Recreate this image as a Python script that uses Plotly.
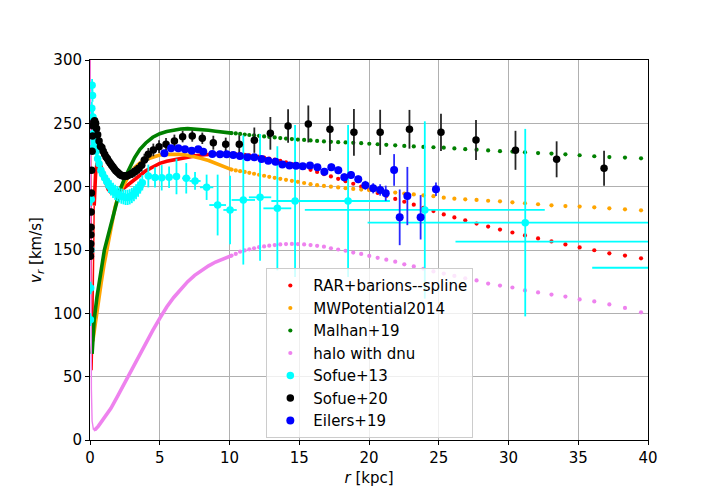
import plotly.graph_objects as go

# ---------------- model curves ----------------
# central spike (very small r), drawn thin
rar_r_spk = [0.01, 0.03, 0.06, 0.10, 0.15, 0.20, 0.25, 0.30]
rar_v_spk = [300, 250, 170, 100, 55, 80, 140, 185]
halo_r_spk = [0.01, 0.03, 0.06, 0.10, 0.15, 0.25]
halo_v_spk = [300, 200, 100, 40, 15, 8]

# inner (densely sampled) part, r < ~10 kpc
rar_r_in = [0.30, 0.40, 0.50, 0.60, 0.70, 0.80, 0.90, 1.00,
            1.15, 1.30, 1.50, 1.70, 1.90, 2.20, 2.50, 2.87, 3.20, 3.58, 4.00, 4.50, 5.00, 5.50, 6.00,
            6.50, 7.00, 7.50, 8.00, 8.50, 9.00, 9.50, 10.15]
rar_v_in = [185, 210, 218, 220, 219, 216, 212, 207,
            202, 198, 195.5, 195, 195.5, 197, 199.5, 202.7, 206, 209.2, 212.5, 215.5, 218.4, 220, 221.2,
            222.3, 223.4, 224.3, 225, 225.6, 226, 226.2, 226.0]

mw_r_in = [0.20, 0.40, 0.60, 0.80, 1.00, 1.20, 1.50, 1.80, 2.10, 2.46, 2.80, 3.20, 3.60, 4.00, 4.50,
           5.00, 5.50, 6.00, 6.50, 7.00, 7.50, 8.00, 8.50, 9.00, 9.50, 10.15]
mw_v_in = [78, 95, 110, 124, 138, 150, 168, 184, 195, 202, 209, 215, 219, 221.5, 223.5,
           225, 225.6, 225.8, 225.5, 224.8, 223.8, 222.3, 220.6, 218.5, 216.3, 213.5]

mal_r_in = [0.15, 0.30, 0.50, 0.70, 1.03, 1.43, 1.80, 2.15, 2.50, 2.87, 3.20, 3.58, 4.00, 4.50, 5.00,
            5.50, 6.00, 6.50, 7.00, 7.50, 8.00, 8.50, 9.00, 9.50, 10.15]
mal_v_in = [68, 95, 113, 128, 150, 167, 184, 197.5, 207, 216, 223, 229.5, 234.5, 239, 241.8,
            243.5, 244.8, 245.5, 245.8, 245.6, 245.1, 244.5, 243.8, 243.2, 242.3]

halo_r_in = [0.25, 0.40, 0.60, 0.80, 1.00, 1.50, 2.00, 2.50, 3.00, 3.50,
             4.00, 4.50, 5.00, 5.50, 6.00, 6.50, 7.00, 7.50, 8.00, 8.50, 9.00, 9.50, 10.15]
halo_v_in = [8, 8.5, 11, 14, 17, 25, 35, 45.5, 55.5, 66,
             76.5, 86.5, 96, 105, 112.5, 119, 125, 130, 134, 137.5, 140.5, 143, 145.6]

# outer part (individual dots)
r_out = [10.15, 10.45, 10.76, 11.09, 11.42, 11.76, 12.12, 12.48, 12.85, 13.24, 13.64, 14.05, 14.47,
         14.90, 15.35, 15.81, 16.28, 16.77, 17.27, 17.79, 18.32, 18.87, 19.44, 20.02, 20.62, 21.24,
         21.88, 22.53, 23.21, 23.90, 24.62, 25.36, 26.12, 26.90, 27.71, 28.54, 29.39, 30.28, 31.18,
         32.12, 33.08, 34.08, 35.10, 36.15, 37.23, 38.35, 39.50]
rar_v_out = [226.0, 225.8, 225.5, 225.2, 224.8, 224.3, 223.7, 223.0, 222.2, 221.3, 220.3, 219.2, 217.9,
             216.5, 215.0, 213.3, 211.6, 209.9, 208.1, 206.2, 204.3, 202.3, 200.0, 197.5, 195.0, 192.7,
             190.3, 188.1, 185.8, 183.3, 180.7, 178.1, 175.7, 173.4, 170.9, 168.5, 166.1, 163.8, 161.5,
             159.1, 156.8, 154.4, 152.0, 149.8, 147.4, 145.6, 143.4]
mw_v_out = [213.5, 212.8, 212.2, 211.6, 210.9, 210.2, 209.4, 208.6, 207.8, 207.0, 206.2, 205.4, 204.6,
            203.8, 202.9, 202.0, 201.2, 200.6, 200.0, 199.4, 198.8, 198.2, 197.7, 197.2, 196.6, 196.0,
            195.3, 194.6, 193.9, 193.2, 192.5, 191.3, 190.5, 190.0, 189.5, 188.9, 188.4, 187.6, 186.9,
            186.1, 185.3, 184.7, 184.3, 183.7, 182.9, 182.1, 181.3]
mal_v_out = [242.3, 242.0, 241.6, 241.2, 240.8, 240.5, 240.1, 239.7, 239.3, 238.9, 238.4, 238.0, 237.6,
             237.2, 236.9, 236.5, 236.1, 235.7, 235.4, 235.1, 234.9, 234.6, 234.3, 233.9, 233.5, 233.0,
             232.6, 232.2, 231.8, 231.4, 231.1, 230.8, 230.2, 229.6, 229.2, 228.6, 228.0, 227.7, 227.1,
             226.5, 226.1, 225.5, 224.8, 224.0, 223.4, 223.0, 222.4]
halo_v_out = [145.6, 147.0, 148.7, 149.7, 150.5, 151.4, 152.2, 152.8, 153.4, 153.9, 154.4, 154.7, 154.8,
              154.7, 154.4, 153.9, 153.3, 152.6, 151.4, 150.4, 149.4, 148.0, 146.9, 145.3, 143.8, 142.4,
              140.8, 138.7, 137.0, 135.2, 133.1, 131.4, 129.5, 127.7, 126.0, 123.5, 121.9, 120.4, 118.1,
              116.5, 114.8, 113.2, 111.0, 109.4, 107.0, 104.3, 100.8]

# ---------------- observational data ----------------
sofue13_r = [0.03, 0.05, 0.07, 0.09, 0.11, 0.13, 0.15, 0.18, 0.21, 0.25, 0.30, 0.36, 0.45, 0.55, 0.65,
             0.78, 0.90, 1.05, 1.20, 1.35, 1.50, 1.65, 1.80, 1.95, 2.10, 2.25, 2.40, 2.55, 2.70, 2.85,
             3.00, 3.15, 3.30, 3.45, 3.60, 3.75,
             4.18, 4.66, 5.14, 5.67, 6.20, 6.90, 7.53, 8.36, 9.15, 10.04, 10.99, 12.19, 13.43, 14.70,
             18.50, 24.00, 31.20, 45.0, 50.0]
sofue13_v = [95, 120, 150, 190, 230, 262, 280, 272, 255, 242, 236, 232, 228, 222, 218,
             213, 210, 207, 204, 201, 199, 197, 195.5, 194.5, 193.5, 192.5, 192, 191.5, 191.5, 192,
             193, 194.5, 196, 198, 200.5, 203,
             208.4, 207.3, 207.0, 207.5, 208.0, 206.6, 204.5, 199.5, 185.5, 181.6, 189.5, 191.6, 182.9, 188.7,
             188.7, 181.6, 171.6, 156.6, 136.0]
sofue13_verr = [5, 5, 5, 5, 5, 5, 5, 5, 5, 5, 5, 5, 5, 5, 5,
                5, 5, 5, 5, 6, 6, 6, 6, 6, 6, 6, 6, 6, 6, 6,
                6, 6, 6, 6, 6, 6,
                9, 8, 10, 8.5, 14, 12, 7, 10, 24, 27, 51, 50, 49, 60,
                60, 70, 74, 75, 75]
sofue13_rerr = [0.01, 0.01, 0.01, 0.01, 0.01, 0.01, 0.01, 0.02, 0.02, 0.02, 0.03, 0.03, 0.04, 0.05, 0.05,
                0.06, 0.07, 0.08, 0.08, 0.08, 0.08, 0.08, 0.08, 0.1, 0.1, 0.1, 0.1, 0.1, 0.1, 0.1,
                0.1, 0.1, 0.1, 0.1, 0.1, 0.1,
                0.25, 0.25, 0.25, 0.25, 0.25, 0.3, 0.4, 0.48, 0.6, 0.48, 0.84, 0.8, 1.0, 1.7,
                3.0, 8.6, 11.3, 18.8, 14.0]

sofue20_r = [0.03, 0.04, 0.05, 0.06, 0.07, 0.08, 0.10, 0.12, 0.15, 0.18, 0.22, 0.27, 0.33, 0.40, 0.47,
             0.55, 0.65, 0.75, 0.85, 0.95, 1.05, 1.15, 1.25, 1.35, 1.45, 1.55, 1.65, 1.75, 1.85, 1.95,
             2.05, 2.15, 2.25, 2.35, 2.45, 2.55, 2.65, 2.75, 2.90, 3.05, 3.20, 3.35, 3.50, 3.70,
             3.90, 4.18, 4.54, 4.95, 5.45, 6.05, 6.64, 7.33, 8.05, 8.84, 9.73, 10.70, 11.78, 12.93,
             14.20, 15.65, 17.20, 18.92, 20.80, 22.90, 25.16, 27.67, 30.50, 33.45, 36.85]
sofue20_v = [145, 150, 155, 162, 168, 180, 195, 213, 228, 240, 248, 251, 252, 250, 246,
             241, 236, 232, 231, 228, 225.5, 223.5, 222, 220, 218.5, 217, 215.5, 214, 212.5, 211.5,
             210.5, 209.5, 209, 208.5, 208.5, 208.5, 208.5, 209, 209.8, 210.8, 211.8, 213, 214.5, 217,
             221, 225.5, 229, 231.6, 233.4, 236.1, 239.5, 240, 238.2, 234.7, 233.4, 233.5, 236.7, 242.1,
             247.9, 249.5, 245.3, 242.9, 242.9, 245.3, 242.9, 236.8, 228.7, 221.6, 214.5]
sofue20_verr = [2, 2, 2, 2, 2, 2, 2, 2, 2, 2, 2, 2, 2, 2, 2,
                2, 2, 2, 2, 2, 2, 2, 2, 2, 2, 2, 2, 2, 2, 2,
                3, 3, 3, 3, 3, 3, 3, 3, 3, 4, 4, 4, 4, 5,
                5, 5, 5, 5, 5, 5, 4.5, 4.5, 4.5, 5.5, 5.3, 7, 10, 12.9,
                13.3, 14.6, 17.2, 18.5, 17.8, 15.3, 14.7, 15.8, 15.4, 14.2, 13.8]

eilers19_r = [5.33, 5.81, 6.33, 6.81, 7.29, 7.76, 8.12, 8.77, 9.32, 9.80, 10.27, 10.75, 11.28, 11.78,
              12.30, 12.78, 13.30, 13.79, 14.30, 14.77, 15.25, 15.77, 16.30, 16.80, 17.30, 17.80, 18.23,
              18.71, 19.23, 19.74, 20.30, 20.80, 21.20, 21.80, 22.20, 22.75, 23.70, 24.80]
eilers19_v = [226.3, 230.3, 230.3, 229.5, 228.4, 229.5, 227.6, 225.8, 225.5, 225.5, 225.0, 224.2, 223.2,
              223.2, 221.8, 220.5, 219.7, 217.5, 216.8, 216.6, 216.1, 216.8, 215.3, 211.8, 215.3, 212.9,
              207.4, 209.2, 205.8, 201.1, 198.7, 197.4, 194.8, 213.2, 175.8, 192.6, 175.8, 197.9]
eilers19_verr = [2, 2, 2, 2, 2, 2, 2, 2, 2, 2, 2, 2, 2, 2, 2, 2, 2, 2, 2, 2, 2, 2.5, 2.5, 3, 3, 3, 3,
                 3, 3, 3.5, 4, 4.5, 6, 12.5, 22, 23, 17.5, 5.3]

# ---------------- figure ----------------
FONT = "DejaVu Sans"
FS = 15
fig = go.Figure()

def model(name, group, color, r_in, v_in, v_out, r_spk=None, v_spk=None):
    if r_spk is not None:
        fig.add_trace(go.Scatter(x=r_spk, y=v_spk, mode="lines", line=dict(color=color, width=1.4),
                                 legendgroup=group, showlegend=False, hoverinfo="skip"))
    fig.add_trace(go.Scatter(x=r_in, y=v_in, mode="lines", line=dict(color=color, width=3.6),
                             legendgroup=group, showlegend=False, hoverinfo="skip"))
    fig.add_trace(go.Scatter(x=r_out, y=v_out, mode="markers", name=name, legendgroup=group,
                             marker=dict(color=color, size=4.2, line=dict(width=0))))

model("RAR+barions--spline", "g1", "#ff0000", rar_r_in, rar_v_in, rar_v_out, rar_r_spk, rar_v_spk)
model("MWPotential2014", "g2", "#ffa500", mw_r_in, mw_v_in, mw_v_out)
model("Malhan+19", "g3", "#008000", mal_r_in, mal_v_in, mal_v_out)
model("halo with dnu", "g4", "#ee82ee", halo_r_in, halo_v_in, halo_v_out, halo_r_spk, halo_v_spk)

fig.add_trace(go.Scatter(
    x=sofue13_r, y=sofue13_v, mode="markers", name="Sofue+13", legendgroup="g5",
    marker=dict(color="#00ffff", size=7.5),
    error_y=dict(type="data", array=sofue13_verr, color="#00ffff", thickness=1.8, width=0),
    error_x=dict(type="data", array=sofue13_rerr, color="#00ffff", thickness=1.8, width=0)))

fig.add_trace(go.Scatter(
    x=sofue20_r, y=sofue20_v, mode="markers", name="Sofue+20", legendgroup="g6",
    marker=dict(color="#000000", size=7.5),
    error_y=dict(type="data", array=sofue20_verr, color="#262626", thickness=1.8, width=0)))

fig.add_trace(go.Scatter(
    x=eilers19_r, y=eilers19_v, mode="markers", name="Eilers+19", legendgroup="g7",
    marker=dict(color="#0000ff", size=8),
    error_y=dict(type="data", array=eilers19_verr, color="#2a2aff", thickness=1.8, width=0)))

axis_common = dict(showgrid=True, gridcolor="#b0b0b0", gridwidth=1, zeroline=False,
                   showline=True, linecolor="black", linewidth=1, mirror=True,
                   ticks="outside", ticklen=4, tickwidth=1, tickcolor="black",
                   tickfont=dict(family=FONT, size=FS, color="black"))

fig.update_layout(
    width=720, height=504,
    margin=dict(l=90, r=72, t=60, b=64),
    paper_bgcolor="white", plot_bgcolor="white",
    font=dict(family=FONT, size=FS, color="black"),
    showlegend=True,
    legend=dict(x=0.316, y=0.452, xanchor="left", yanchor="top",
                bgcolor="rgba(255,255,255,0.8)", bordercolor="#cccccc", borderwidth=1,
                font=dict(family=FONT, size=FS, color="black"),
                itemwidth=36,
                traceorder="grouped", tracegroupgap=0),
    xaxis=dict(range=[0, 40], tickvals=[0, 5, 10, 15, 20, 25, 30, 35, 40],
               title=dict(text="<i>r</i> [kpc]", font=dict(family=FONT, size=FS), standoff=6),
               **axis_common),
    yaxis=dict(range=[0, 300], tickvals=[0, 50, 100, 150, 200, 250, 300],
               title=dict(text="<i>v</i><sub><i>r</i></sub> [km/s]", font=dict(family=FONT, size=FS), standoff=8),
               **axis_common),
)

fig.write_html("out.html", config={"displayModeBar": False},
               post_script="document.body.style.margin='0px';")
